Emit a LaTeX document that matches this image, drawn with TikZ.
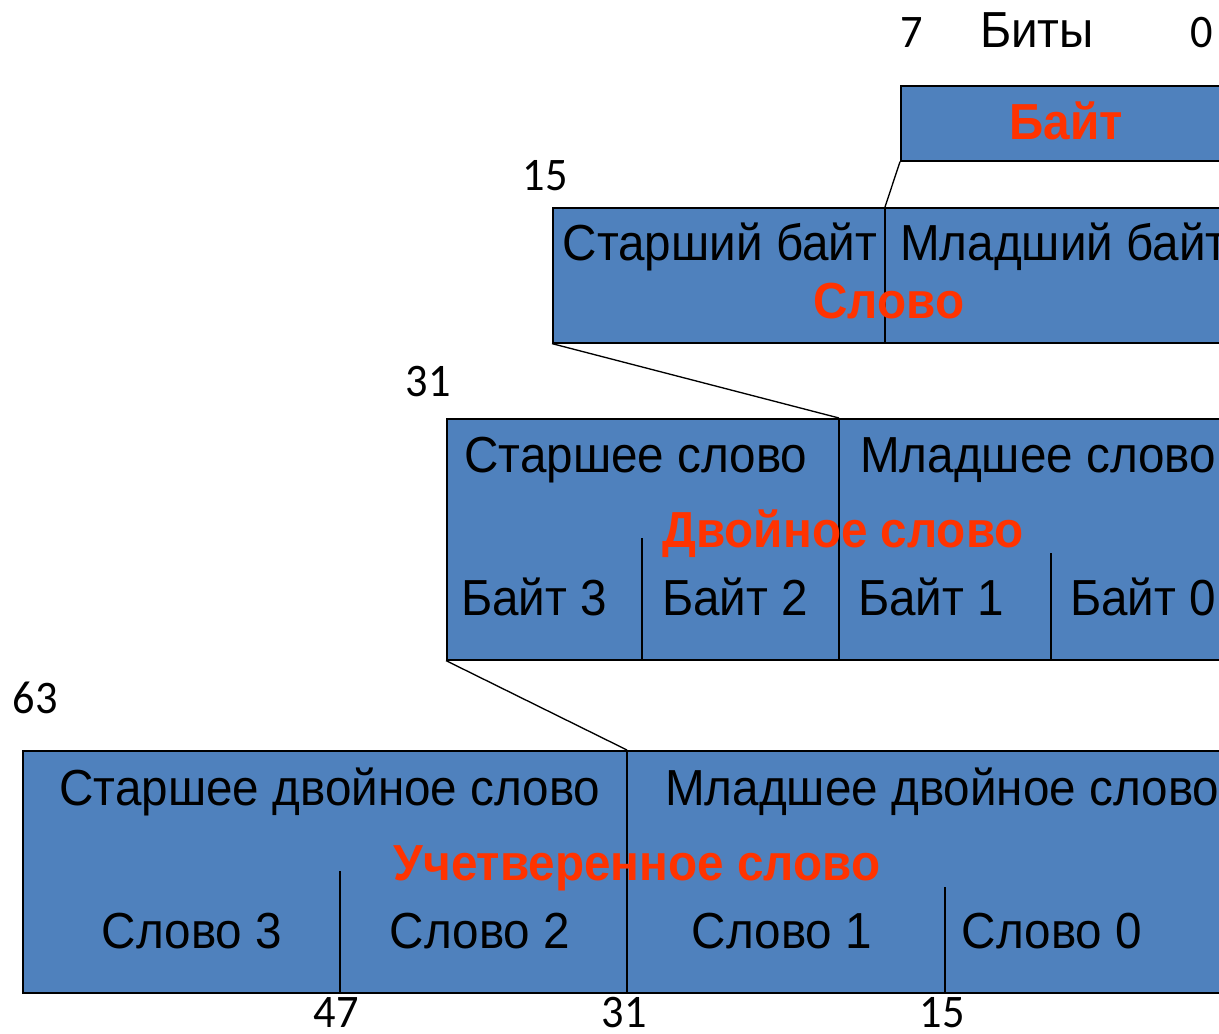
\documentclass[tikz,border=0pt]{standalone}
\usepackage{fontspec}
\newfontfamily\nar[FakeStretch=0.94]{Liberation Sans}
\newfontfamily\num[FakeStretch=0.95]{Carlito}
\definecolor{boxblue}{HTML}{4F81BD}
\definecolor{lblred}{HTML}{FF3300}
\tikzset{
  x=0.75pt, y=-0.75pt,
  box/.style={draw=black, line width=1.2pt, fill=boxblue, anchor=north west, inner sep=0pt},
  part/.style={draw=black, line width=1pt},
  lbl/.style={inner sep=0pt, anchor=base, font=\nar\fontsize{38}{42}\selectfont},
  lblw/.style={lbl, anchor=base west},
  title/.style={inner sep=0pt, anchor=base, text=lblred, font=\nar\bfseries\fontsize{38}{42}\selectfont},
  numl/.style={inner sep=0pt, anchor=base, font=\num\fontsize{35}{38}\selectfont},
  link/.style={draw=black, line width=1pt}
}
\begin{document}
\begin{tikzpicture}
\useasboundingbox (0,0) rectangle (1219,1033);
\clip (0,0) rectangle (1219,1033);
% boxes
\node[box, minimum width=340*0.75pt, minimum height=75*0.75pt] (byte) at (900,85) {};
\node[box, minimum width=700*0.75pt, minimum height=135*0.75pt] (word) at (552,207) {};
\node[box, minimum width=800*0.75pt, minimum height=241*0.75pt] (dword) at (446,418) {};
\node[box, minimum width=1230*0.75pt, minimum height=242*0.75pt] (qword) at (22,750) {};
% divider coordinates
\coordinate (wdt) at (885,207); \coordinate (wdb) at (885,342);
\coordinate (ddt) at (839,418); \coordinate (ddb) at (839,659);
\coordinate (db2t) at (642,538); \coordinate (db2b) at (642,659);
\coordinate (db0t) at (1051,553); \coordinate (db0b) at (1051,659);
\coordinate (qdt) at (627,750); \coordinate (qdb) at (627,992);
\coordinate (qw2t) at (340,871); \coordinate (qw2b) at (340,992);
\coordinate (qw0t) at (945,887); \coordinate (qw0b) at (945,992);
\draw[part] (wdt) -- (wdb);
\draw[part] (ddt) -- (ddb);
\draw[part] (db2t) -- (db2b);
\draw[part] (db0t) -- (db0b);
\draw[part] (qdt) -- (qdb);
\draw[part] (qw2t) -- (qw2b);
\draw[part] (qw0t) -- (qw0b);
% links
\draw[link] (byte.south west) -- (wdt);
\draw[link] (word.south west) -- (ddt);
\draw[link] (dword.south west) -- (qdt);
% top labels
\node[numl] (n7) at (912,47) {7};
\node[lbl] (bits) at (1037,47) {Биты};
\node[numl] (n0) at (1202,47) {0};
\node[title] (tbyte) at (1066,139) {Байт};
% word
\node[numl] (n15a) at (545,190) {15};
\node[lbl] (hb) at (720,260) {Старший байт};
\node[lblw] (lb) at (900,260) {Младший байт};
\node[title] (tword) at (889,318) {Слово};
% dword
\node[numl] (n31a) at (428,396) {31};
\node[lbl] (hw) at (636,472) {Старшее слово};
\node[lblw] (lw) at (860,472) {Младшее слово};
\node[title] (tdword) at (843,547) {Двойное слово};
\node[lbl] (b3) at (534,615) {Байт 3};
\node[lbl] (b2) at (735,615) {Байт 2};
\node[lbl] (b1) at (931,615) {Байт 1};
\node[lbl] (b0) at (1143,615) {Байт 0};
% qword
\node[numl] (n63) at (35,713) {63};
\node[lbl] (hd) at (330,805) {Старшее двойное слово};
\node[lblw] (ld) at (665,805) {Младшее двойное слово};
\node[title] (tqword) at (637,880) {Учетверенное слово};
\node[lbl] (w3) at (192,948) {Слово 3};
\node[lbl] (w2) at (480,948) {Слово 2};
\node[lbl] (w1) at (782,948) {Слово 1};
\node[lbl] (w0) at (1052,948) {Слово 0};
\node[numl] (n47) at (336,1027) {47};
\node[numl] (n31b) at (624,1027) {31};
\node[numl] (n15b) at (942,1027) {15};
\end{tikzpicture}
\end{document}
